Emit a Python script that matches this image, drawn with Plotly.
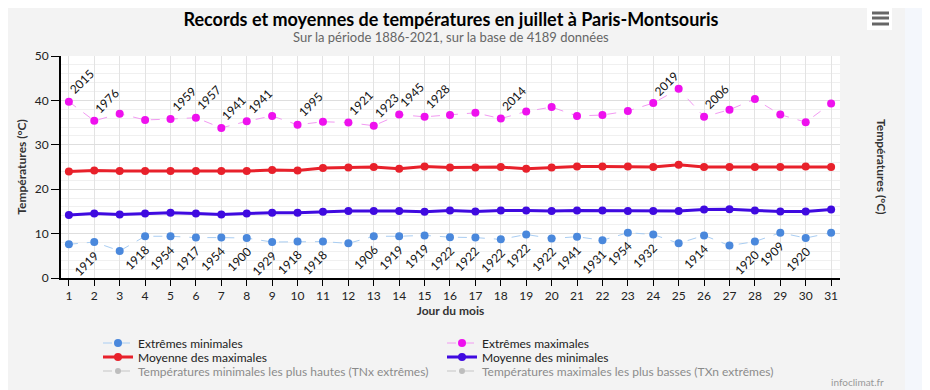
import plotly.graph_objects as go

days = list(range(1, 32))

ext_max = [39.7, 35.4, 37.0, 35.6, 35.8, 36.1, 33.8, 35.3, 36.5, 34.5,
           35.2, 35.0, 34.3, 36.8, 36.3, 36.7, 37.2, 35.9, 37.5, 38.5,
           36.5, 36.7, 37.6, 39.4, 42.6, 36.3, 37.9, 40.3, 36.8, 35.1, 39.3]
ext_max_years = ["2015", "1976", "", "", "1959", "1957", "1941", "1941", "", "1995",
                 "", "1921", "1923", "1945", "1928", "", "", "2014", "", "",
                 "", "", "", "2019", "", "2006", "", "", "", "", ""]

ext_min = [7.6, 8.1, 6.1, 9.4, 9.4, 9.1, 9.1, 9.0, 8.1, 8.2,
           8.2, 7.8, 9.4, 9.4, 9.6, 9.2, 9.1, 8.7, 9.8, 8.9,
           9.3, 8.5, 10.2, 9.8, 7.8, 9.6, 7.3, 8.2, 10.2, 9.0, 10.2]
ext_min_years = ["", "1919", "", "1918", "1954", "1917", "1954", "1900", "1929", "1918",
                 "1918", "", "1906", "1919", "1919", "1922", "1922", "1922", "1922", "1922",
                 "1941", "1931", "1954", "1932", "", "1914", "", "1920", "1909", "1920", ""]

mean_max = [24.0, 24.2, 24.1, 24.1, 24.1, 24.1, 24.1, 24.1, 24.3, 24.2,
            24.8, 24.9, 25.0, 24.6, 25.1, 24.9, 24.9, 25.0, 24.6, 24.9,
            25.1, 25.1, 25.1, 25.0, 25.5, 25.0, 25.0, 25.0, 25.0, 25.1, 25.0]

mean_min = [14.2, 14.5, 14.3, 14.5, 14.7, 14.5, 14.3, 14.5, 14.7, 14.7,
            14.9, 15.1, 15.1, 15.1, 14.9, 15.2, 15.0, 15.2, 15.2, 15.1,
            15.2, 15.2, 15.1, 15.1, 15.1, 15.4, 15.5, 15.2, 15.0, 15.0, 15.4]

# hidden series (greyed in the legend only, values not displayed)
tnx_hidden = [None] * 31
txn_hidden = [None] * 31

y_ticks = [0, 10, 20, 30, 40, 50]

title = "Records et moyennes de températures en juillet à Paris-Montsouris"
subtitle = "Sur la période 1886-2021, sur la base de 4189 données"
y_title = "Températures (°C)"
x_title = "Jour du mois"

FONT = "Lato, 'Open Sans', sans-serif"
W, H = 930, 390
L, T, R, B = 53, 48, 98, 120   # plot area margins (page has an 8px body offset)

fig = go.Figure()

fig.add_trace(go.Scatter(
    x=days, y=ext_min, name="Extrêmes minimales", mode="lines+markers", legend="legend",
    line=dict(color="#a9cdf2", width=1, dash="dash"),
    marker=dict(color="#4a88dc", size=8)))
fig.add_trace(go.Scatter(
    x=days, y=ext_max, name="Extrêmes maximales", mode="lines+markers", legend="legend",
    line=dict(color="#f29af2", width=1, dash="dash"),
    marker=dict(color="#ee11ee", size=8)))
fig.add_trace(go.Scatter(
    x=days, y=mean_max, name="Moyenne des maximales", mode="lines+markers", legend="legend2",
    line=dict(color="#e8212b", width=3),
    marker=dict(color="#e8212b", size=8)))
fig.add_trace(go.Scatter(
    x=days, y=mean_min, name="Moyenne des minimales", mode="lines+markers", legend="legend2",
    line=dict(color="#3f0ae0", width=3),
    marker=dict(color="#3f0ae0", size=8)))
fig.add_trace(go.Scatter(
    x=days, y=tnx_hidden, name="Températures minimales les plus hautes (TNx extrêmes)",
    mode="lines+markers", visible="legendonly", legend="legend3",
    line=dict(color="#999999", width=1, dash="dash"), marker=dict(color="#888888", size=6)))
fig.add_trace(go.Scatter(
    x=days, y=txn_hidden, name="Températures maximales les plus basses (TXn extrêmes)",
    mode="lines+markers", visible="legendonly", legend="legend3",
    line=dict(color="#999999", width=1, dash="dash"), marker=dict(color="#888888", size=6)))

annotations = []
for d, v, yr in zip(days, ext_max, ext_max_years):
    if yr:
        annotations.append(dict(x=d, y=v, text=yr, textangle=-45, showarrow=False,
                                xanchor="left", yanchor="bottom", xshift=-5, yshift=2,
                                font=dict(family=FONT, size=12, color="#111")))
for d, v, yr in zip(days, ext_min, ext_min_years):
    if yr:
        annotations.append(dict(x=d, y=v, text=yr, textangle=-45, showarrow=False,
                                xanchor="right", yanchor="top", xshift=10, yshift=-3,
                                font=dict(family=FONT, size=12, color="#111")))

# subtitle
annotations.append(dict(text=subtitle, xref="paper", yref="paper", x=(443 - L) / (W - L - R),
                        y=1, yshift=19, xanchor="center", yanchor="middle", showarrow=False,
                        font=dict(family=FONT, size=13, color="#666")))
# right axis title (reads top-to-bottom)
annotations.append(dict(text="<b>" + y_title + "</b>", xref="paper", yref="paper",
                        x=1, xshift=42, y=0.5, xanchor="center", yanchor="middle",
                        textangle=90, showarrow=False,
                        font=dict(family=FONT, size=12, color="#333")))
# credit
annotations.append(dict(text="infoclimat.fr", xref="paper", yref="paper", x=1, xshift=17,
                        y=0, yshift=-104, xanchor="center", yanchor="middle", showarrow=False,
                        font=dict(family=FONT, size=10, color="#999")))

shapes = [
    dict(type="rect", xref="paper", yref="paper", xsizemode="pixel", ysizemode="pixel",
         xanchor=1, yanchor=1, x0=65, x1=100, y0=-350, y1=60,
         fillcolor="#f4f7fc", line=dict(width=0), layer="below"),
    dict(type="rect", xref="paper", yref="paper", xsizemode="pixel", ysizemode="pixel",
         xanchor=1, yanchor=1, x0=27, x1=52, y0=26, y1=49,
         fillcolor="#ffffff", line=dict(width=0)),
]
for dy in (43, 38, 32):
    shapes.append(dict(type="line", xref="paper", yref="paper", xsizemode="pixel",
                       ysizemode="pixel", xanchor=1, yanchor=1, x0=32, x1=49, y0=dy, y1=dy,
                       line=dict(color="#666666", width=3)))


def legend_row(screen_y):
    return dict(orientation="h", xref="container", yref="container",
                x=90 / W, y=1 - (screen_y - 8) / H, xanchor="left", yanchor="middle",
                entrywidth=299, font=dict(family=FONT, size=12, color="#222"),
                bgcolor="rgba(0,0,0,0)", itemwidth=30, tracegroupgap=0)


fig.update_layout(
    width=W, height=H,
    margin=dict(l=L, r=R, t=T, b=B, autoexpand=False),
    paper_bgcolor="#f3f3f3", plot_bgcolor="#ffffff",
    showlegend=True,
    title=dict(text=title, x=443 / W, xanchor="center", y=1 - 12 / H, yanchor="middle",
               xref="container", yref="container", automargin=False,
               font=dict(family=FONT, size=18, color="#000", weight="bold")),
    legend=legend_row(343),
    legend2=legend_row(357),
    legend3=legend_row(371),
    xaxis=dict(range=[0.69, 31.35], tickmode="array", tickvals=days, automargin=False,
               ticktext=[str(d) for d in days], showgrid=True, gridcolor="#e3e3e3",
               showline=True, linecolor="#000", linewidth=2, ticks="outside",
               ticklen=6, tickcolor="#000", zeroline=False,
               tickfont=dict(family=FONT, size=12, color="#222"),
               title=dict(text="<b>" + x_title + "</b>", font=dict(family=FONT, size=12, color="#333"),
                          standoff=2)),
    yaxis=dict(range=[0, 50], tickvals=y_ticks, showgrid=True, gridcolor="#dedede",
               automargin=True,
               minor=dict(dtick=2, showgrid=True, gridcolor="#f0f0f0"),
               showline=True, linecolor="#000", linewidth=2, ticks="outside", ticklen=8,
               tickcolor="#000", zeroline=False,
               tickfont=dict(family=FONT, size=12, color="#222"),
               title=dict(text="<b>" + y_title + "</b>", font=dict(family=FONT, size=12, color="#333"),
                          standoff=5)),
    yaxis2=dict(range=[0, 50], tickvals=y_ticks, overlaying="y", side="right",
                automargin=False,
                showgrid=False, showline=True, linecolor="#000", linewidth=2,
                ticks="outside", ticklen=8, tickcolor="#000", zeroline=False,
                tickfont=dict(family=FONT, size=12, color="#222")),
    annotations=annotations,
    shapes=shapes,
)

fig.write_html("out.html")
